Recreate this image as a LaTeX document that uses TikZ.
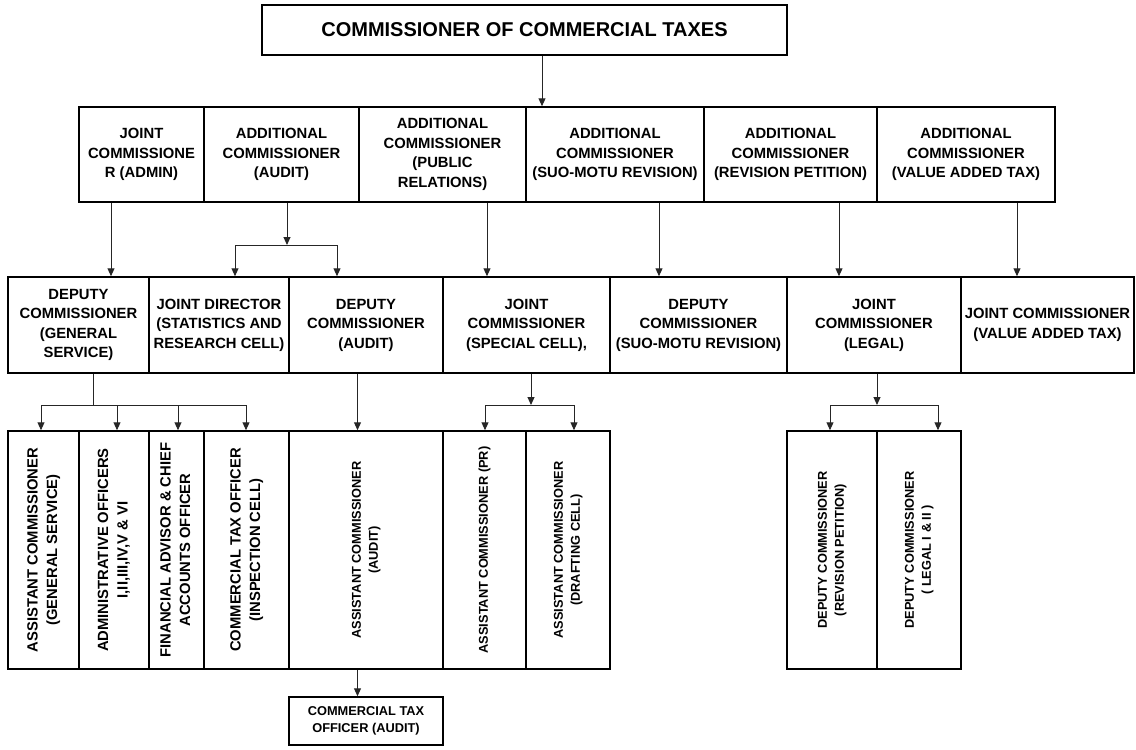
\documentclass[tikz,border=0pt]{standalone}
\usepackage{fontspec}
\setmainfont{Liberation Sans}
\usepackage{graphicx}
\usetikzlibrary{arrows.meta}
\tikzset{
  cell/.style={draw, line width=1.5pt, inner sep=0pt, align=center,
    font=\bfseries\fontsize{14.8}{19.5}\selectfont},
  vcell/.style={draw, line width=1.5pt, inner sep=0pt,
    font=\bfseries\fontsize{14.8}{19.5}\selectfont},
  small/.style={font=\bfseries\fontsize{12.8}{17}\selectfont},
  conn/.style={draw=black!85, line width=1pt},
  arr/.style={conn, -{Triangle[length=8pt,width=7pt]}},
}
\newcommand{\vtext}[1]{\rotatebox{90}{\begin{tabular}{@{}c@{}}#1\end{tabular}}}
\begin{document}
\begin{tikzpicture}[x=1pt,y=-1pt]
\useasboundingbox (0,0) rectangle (1136,750);

% top
\node[cell, minimum width=525pt, minimum height=50pt,
  font=\bfseries\fontsize{20}{24}\selectfont] (top) at (524.5,30) {COMMISSIONER OF COMMERCIAL TAXES};

% row 2
\node[cell, minimum width=125pt, minimum height=95pt] (r2a) at (141.5,154.5) {JOINT\\COMMISSIONE\\R (ADMIN)};
\node[cell, minimum width=155pt, minimum height=95pt] (r2b) at (281.5,154.5) {ADDITIONAL\\COMMISSIONER\\(AUDIT)};
\node[cell, minimum width=167pt, minimum height=95pt] (r2c) at (442.5,154.5) {ADDITIONAL\\COMMISSIONER\\(PUBLIC\\RELATIONS)};
\node[cell, minimum width=178pt, minimum height=95pt] (r2d) at (615,154.5) {ADDITIONAL\\COMMISSIONER\\(SUO-MOTU REVISION)};
\node[cell, minimum width=173pt, minimum height=95pt] (r2e) at (790.5,154.5) {ADDITIONAL\\COMMISSIONER\\(REVISION PETITION)};
\node[cell, minimum width=178pt, minimum height=95pt] (r2f) at (966,154.5) {ADDITIONAL\\COMMISSIONER\\(VALUE ADDED TAX)};

% row 3
\node[cell, minimum width=141pt, minimum height=96pt] (r3a) at (78.5,325) {DEPUTY\\COMMISSIONER\\(GENERAL\\SERVICE)};
\node[cell, minimum width=140pt, minimum height=96pt] (r3b) at (219,325) {JOINT DIRECTOR\\(STATISTICS AND\\RESEARCH CELL)};
\node[cell, minimum width=154pt, minimum height=96pt] (r3c) at (366,325) {DEPUTY\\COMMISSIONER\\(AUDIT)};
\node[cell, minimum width=167pt, minimum height=96pt] (r3d) at (526.5,325) {JOINT\\COMMISSIONER\\(SPECIAL CELL),};
\node[cell, minimum width=177pt, minimum height=96pt] (r3e) at (698.5,325) {DEPUTY\\COMMISSIONER\\(SUO-MOTU REVISION)};
\node[cell, minimum width=174pt, minimum height=96pt] (r3f) at (874,325) {JOINT\\COMMISSIONER\\(LEGAL)};
\node[cell, minimum width=173pt, minimum height=96pt] (r3g) at (1047.5,325) {JOINT COMMISSIONER\\(VALUE ADDED TAX)};

% row 4
\node[vcell, minimum width=71pt, minimum height=238pt] (r4a) at (43.5,550) {\vtext{ASSISTANT COMMISSIONER\\(GENERAL SERVICE)}};
\node[vcell, minimum width=70pt, minimum height=238pt] (r4b) at (114,550) {\vtext{ADMINISTRATIVE OFFICERS\\I,II,III,IV,V \& VI}};
\node[vcell, minimum width=55pt, minimum height=238pt] (r4c) at (176.5,550) {\vtext{FINANCIAL ADVISOR \& CHIEF\\ACCOUNTS OFFICER}};
\node[vcell, minimum width=85pt, minimum height=238pt] (r4d) at (246.5,550) {\vtext{COMMERCIAL TAX OFFICER\\(INSPECTION CELL)}};
\node[vcell, small, minimum width=154pt, minimum height=238pt] (r4e) at (366,550) {\vtext{ASSISTANT COMMISSIONER\\(AUDIT)}};
\node[vcell, small, minimum width=83pt, minimum height=238pt] (r4f) at (484.5,550) {\vtext{ASSISTANT COMMISSIONER (PR)}};
\node[vcell, small, minimum width=84pt, minimum height=238pt] (r4g) at (568,550) {\vtext{ASSISTANT COMMISSIONER\\(DRAFTING CELL)}};
\node[vcell, small, minimum width=90pt, minimum height=238pt] (r4h) at (832,550) {\vtext{DEPUTY COMMISSIONER\\(REVISION PETITION)}};
\node[vcell, small, minimum width=84pt, minimum height=238pt] (r4i) at (919,550) {\vtext{DEPUTY COMMISSIONER\\( LEGAL I \& II )}};

% bottom
\node[cell, small, minimum width=154pt, minimum height=48pt] (bot) at (366,721) {COMMERCIAL TAX\\OFFICER (AUDIT)};

% connectors row 1 -> row 2
\coordinate (c1) at (542,0);
\draw[arr] (c1 |- top.south) -- (c1 |- r2d.north);

% row 2 -> row 3
\coordinate (c2) at (111,0);
\draw[arr] (c2 |- r2a.south) -- (c2 |- r3a.north);
\coordinate (j1) at (287,245);
\coordinate (j1l) at (235,245);
\coordinate (j1r) at (337,245);
\draw[arr] (j1 |- r2b.south) -- (j1);
\draw[conn] (j1l) -- (j1r);
\draw[arr] (j1l) -- (j1l |- r3b.north);
\draw[arr] (j1r) -- (j1r |- r3c.north);
\coordinate (c3) at (487,0);
\draw[arr] (c3 |- r2c.south) -- (c3 |- r3d.north);
\coordinate (c4) at (659,0);
\draw[arr] (c4 |- r2d.south) -- (c4 |- r3e.north);
\coordinate (c5) at (839,0);
\draw[arr] (c5 |- r2e.south) -- (c5 |- r3f.north);
\coordinate (c6) at (1017,0);
\draw[arr] (c6 |- r2f.south) -- (c6 |- r3g.north);

% row 3 -> row 4
\coordinate (j2) at (93,405);
\coordinate (j2a) at (41,405);
\coordinate (j2b) at (117,405);
\coordinate (j2c) at (178,405);
\coordinate (j2d) at (246,405);
\draw[conn] (j2 |- r3a.south) -- (j2);
\draw[conn] (j2a) -- (j2d);
\draw[arr] (j2a) -- (j2a |- r4a.north);
\draw[arr] (j2b) -- (j2b |- r4b.north);
\draw[arr] (j2c) -- (j2c |- r4c.north);
\draw[arr] (j2d) -- (j2d |- r4d.north);

\coordinate (c7) at (357.5,0);
\draw[arr] (c7 |- r3c.south) -- (c7 |- r4e.north);
\draw[arr] (c7 |- r4e.south) -- (c7 |- bot.north);

\coordinate (j3) at (531,405);
\coordinate (j3l) at (485,405);
\coordinate (j3r) at (574,405);
\draw[arr] (j3 |- r3d.south) -- (j3);
\draw[conn] (j3l) -- (j3r);
\draw[arr] (j3l) -- (j3l |- r4f.north);
\draw[arr] (j3r) -- (j3r |- r4g.north);

\coordinate (j4) at (877,405);
\coordinate (j4l) at (830,405);
\coordinate (j4r) at (938,405);
\draw[arr] (j4 |- r3f.south) -- (j4);
\draw[conn] (j4l) -- (j4r);
\draw[arr] (j4l) -- (j4l |- r4h.north);
\draw[arr] (j4r) -- (j4r |- r4i.north);
\end{tikzpicture}
\end{document}
